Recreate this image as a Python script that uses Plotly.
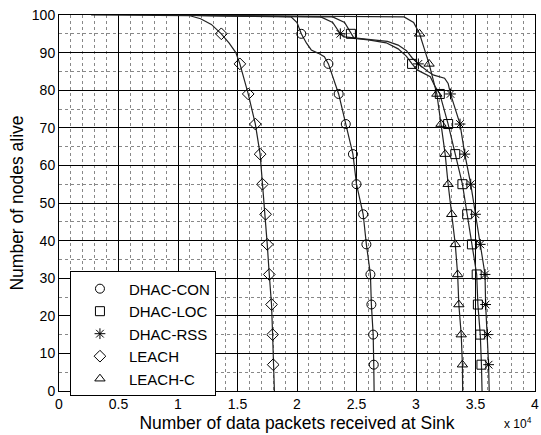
import plotly.graph_objects as go

# ---- data (x in units of 1e4 packets) ----
MARKER_Y = [95, 87, 79, 71, 63, 55, 47, 39, 31, 23, 15, 7]

leach_x = [0.27, 1.10, 1.19, 1.28, 1.364, 1.43, 1.486, 1.52, 1.59, 1.65, 1.69, 1.71, 1.736, 1.75, 1.767, 1.786, 1.795, 1.80, 1.81]
leach_y = [100, 99.8, 99, 97.5, 95, 92.5, 90, 87, 79, 71, 63, 55, 47, 39, 31, 23, 15, 7, 0]
leach_mx = [1.364, 1.52, 1.59, 1.65, 1.69, 1.71, 1.736, 1.75, 1.767, 1.786, 1.795, 1.80]

con_x = [0.80, 1.95, 2.00, 2.036, 2.08, 2.12, 2.18, 2.23, 2.264, 2.31, 2.35, 2.41, 2.47, 2.50, 2.556, 2.583, 2.617, 2.625, 2.64, 2.645, 2.648]
con_y = [100, 99.5, 98, 95, 92.5, 90.7, 89.8, 88.9, 87, 83, 79, 71, 63, 55, 47, 39, 31, 23, 15, 7, 0]
con_mx = [2.036, 2.264, 2.35, 2.41, 2.47, 2.50, 2.556, 2.583, 2.617, 2.625, 2.64, 2.645]

loc_x = [0.80, 2.30, 2.40, 2.453, 2.48, 2.60, 2.75, 2.85, 2.92, 2.967, 3.01, 3.12, 3.16, 3.20, 3.27, 3.33, 3.39, 3.43, 3.47, 3.51, 3.52, 3.54, 3.55, 3.555]
loc_y = [100, 99.5, 98, 95, 93.8, 93.4, 92.6, 91, 89, 87, 85.4, 83.6, 81, 79, 71, 63, 55, 47, 39, 31, 23, 15, 7, 0]
loc_mx = [2.453, 2.967, 3.20, 3.27, 3.33, 3.39, 3.43, 3.47, 3.51, 3.52, 3.54, 3.55]

rss_x = [0.80, 2.20, 2.30, 2.364, 2.40, 2.60, 2.76, 2.85, 2.92, 2.97, 3.02, 3.10, 3.15, 3.24, 3.27, 3.29, 3.37, 3.41, 3.46, 3.50, 3.54, 3.58, 3.585, 3.60, 3.61, 3.615]
rss_y = [100, 99.5, 98, 95, 94.2, 93.6, 93, 92, 90.5, 88.5, 87, 85, 84, 83.2, 81.8, 79, 71, 63, 55, 47, 39, 31, 23, 15, 7, 0]
rss_mx = [2.364, 3.02, 3.29, 3.37, 3.41, 3.46, 3.50, 3.54, 3.58, 3.585, 3.60, 3.61]

leachc_x = [0.80, 2.90, 2.98, 3.03, 3.07, 3.11, 3.175, 3.21, 3.245, 3.27, 3.30, 3.33, 3.35, 3.36, 3.38, 3.39, 3.392]
leachc_y = [100, 99.5, 98, 95, 91, 87, 79, 71, 63, 55, 47, 39, 31, 23, 15, 7, 0]
leachc_mx = [3.03, 3.11, 3.175, 3.21, 3.245, 3.27, 3.30, 3.33, 3.35, 3.36, 3.38, 3.39]

series = [
    ("DHAC-CON", con_x, con_y, con_mx, "circle-open"),
    ("DHAC-LOC", loc_x, loc_y, loc_mx, "square-open"),
    ("DHAC-RSS", rss_x, rss_y, rss_mx, "asterisk-open"),
    ("LEACH", leach_x, leach_y, leach_mx, "diamond-open"),
    ("LEACH-C", leachc_x, leachc_y, leachc_mx, "triangle-up-open"),
]

fig = go.Figure()
for name, lx, ly, mx, sym in series:
    fig.add_trace(go.Scatter(x=lx, y=ly, mode="lines", line=dict(color="#222", width=1.2),
                             showlegend=False, hoverinfo="skip"))
for name, lx, ly, mx, sym in series:
    fig.add_trace(go.Scatter(x=mx, y=MARKER_Y, mode="markers", name=name,
                             marker=dict(symbol=sym, size=9, color="black",
                                         line=dict(color="black", width=1))))

font = "Liberation Sans, Arial, sans-serif"
fig.update_layout(
    width=541, height=435,
    margin=dict(l=59, r=2, t=15, b=44),
    paper_bgcolor="white", plot_bgcolor="white",
    font=dict(family=font, size=14, color="black"),
    showlegend=True,
    legend=dict(x=0.023, y=0.318, xanchor="left", yanchor="top",
                bgcolor="white", bordercolor="black", borderwidth=1,
                font=dict(family=font, size=15, color="black"),
                tracegroupgap=0, itemwidth=48),
)
fig.update_xaxes(range=[0, 4], dtick=0.5, tick0=0, showgrid=True, gridcolor="black", gridwidth=1.3,
                 showline=True, linecolor="black", linewidth=1, mirror=True, zeroline=False,
                 ticks="", tickfont=dict(size=14), ticklabeloverflow="allow",
                 minor=dict(dtick=0.1, showgrid=True, gridcolor="#888", griddash="dot", gridwidth=1),
                 title=dict(text="Number of data packets received at Sink", font=dict(size=17.5), standoff=5))
fig.update_yaxes(range=[0, 100], dtick=10, tick0=0, showgrid=True, gridcolor="black", gridwidth=1.3,
                 showline=True, linecolor="black", linewidth=1, mirror=True, zeroline=False,
                 ticks="", tickfont=dict(size=14),
                 minor=dict(dtick=5, showgrid=True, gridcolor="#888", griddash="dot", gridwidth=1),
                 title=dict(text="Number of nodes alive", font=dict(size=17.5), standoff=3))
fig.add_annotation(text="x 10<sup>4</sup>", x=0.965, y=-0.085, xref="paper", yref="paper",
                   showarrow=False, xanchor="center", yanchor="middle", font=dict(size=12))

fig.write_html("out.html")
